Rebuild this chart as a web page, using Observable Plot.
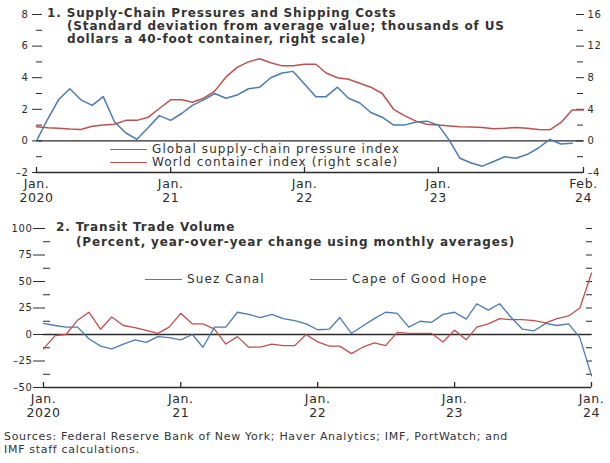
<!DOCTYPE html>
<html><head><meta charset="utf-8">
<script src="https://cdn.jsdelivr.net/npm/d3@7"></script>
<script src="https://cdn.jsdelivr.net/npm/@observablehq/plot@0.6"></script>
<style>
body{margin:0;background:#fff;}
#wrap{position:relative;width:610px;height:463px;font-family:"DejaVu Sans",sans-serif;color:#333;overflow:hidden;background:#fff}
.abs{position:absolute;white-space:nowrap;line-height:13px}
.t{font-weight:bold;font-size:12px;letter-spacing:0.85px}
.lg{font-size:12px;display:flex;align-items:center;letter-spacing:1.1px}
.sw{display:inline-block;width:37px;height:0;border-top:1.5px solid;margin-right:5px}
.src{font-size:11px;line-height:13px;letter-spacing:0.7px}
#p1,#p2{position:absolute;left:0}
#p1{top:0}#p2{top:210px}
#wrap svg text{letter-spacing:0.6px}
</style></head>
<body><div id="wrap">
<div id="p1"></div><div id="p2"></div>
<div class="abs t" style="left:47px;top:7px">1. Supply-Chain Pressures and Shipping Costs</div>
<div class="abs t" style="left:67px;top:20px">(Standard deviation from average value; thousands of US</div>
<div class="abs t" style="left:67px;top:33px">dollars a 40-foot container, right scale)</div>
<div class="abs lg" style="left:110px;top:143px"><span class="sw" style="border-color:#4a7bb5"></span>Global supply-chain pressure index</div>
<div class="abs lg" style="left:110px;top:156px"><span class="sw" style="border-color:#c0504d"></span>World container index (right scale)</div>
<div class="abs t" style="left:56px;top:221px">2. Transit Trade Volume</div>
<div class="abs t" style="left:76px;top:236px">(Percent, year-over-year change using monthly averages)</div>
<div class="abs lg" style="left:145px;top:273px"><span class="sw" style="border-color:#4a7bb5;border-top-width:1px"></span>Suez Canal</div>
<div class="abs lg" style="left:310px;top:273px"><span class="sw" style="border-color:#c0504d;border-top-width:1px"></span>Cape of Good Hope</div>
<div class="abs src" style="left:4px;top:430px">Sources: Federal Reserve Bank of New York; Haver Analytics; IMF, PortWatch; and<br>IMF staff calculations.</div>
</div>
<script>
const blue = "#4a7bb5", red = "#c0504d", ink = "#2a2a2a";
// Panel 1: monthly, Jan 2020 – Jan 2024 (GSCPI), Jan 2020 – Feb 2024 (WCI)
const gscpi = [0.0,1.4,2.6,3.3,2.6,2.25,2.8,1.2,0.5,0.1,0.85,1.6,
  1.3,1.75,2.25,2.6,3.0,2.7,2.9,3.3,3.4,4.0,4.3,4.4,
  3.6,2.8,2.8,3.4,2.7,2.4,1.8,1.5,1.0,1.0,1.2,1.25,
  1.0,0.0,-1.1,-1.4,-1.6,-1.3,-1.0,-1.1,-0.85,-0.45,0.1,-0.2,
  -0.15];
const wci = [1.8,1.65,1.6,1.5,1.45,1.85,2.0,2.1,2.6,2.6,3.0,4.1,
  5.2,5.2,4.9,5.4,6.3,8.1,9.3,10.0,10.4,9.9,9.5,9.5,
  9.7,9.7,8.6,8.0,7.8,7.3,6.8,6.0,4.0,3.2,2.5,2.1,
  2.0,1.9,1.8,1.75,1.7,1.55,1.6,1.7,1.6,1.45,1.4,2.3,
  3.9,3.9];
// Panel 2: monthly, Jan 2020 – Jan 2024
const suez = [10.5,8.5,7,7,-4,-11,-13.5,-9,-5,-7.5,-2,-3,
  -5,0,-12,7,7,21,19,16,19,15,13,10,
  4.5,5,16,1,8,15,21,20,7,12.5,11.5,19,
  21,14.5,29,23,29,16,5,3.5,10.5,8.5,10,-3,
  -39];
const cape = [-13.5,-1,0,13.5,21,5,16.5,8.5,6.5,4,1,7,
  20,10,10,5,-9,-2,-12,-12,-9,-10.5,-10.5,0,
  -7,-11,-11,-18,-12,-8,-10.5,2,1,1,1,-7,
  4,-5,7,10,15,14,14,13,11,15,17.5,25,
  58];
const topTickDates = ["2020-01-01","2021-01-01","2022-01-01","2023-01-01","2024-02-01"];
const topTickLabels = ["Jan.\n2020","Jan.\n21","Jan.\n22","Jan.\n23","Feb.\n24"];
const botTickDates = ["2020-01-01","2021-01-01","2022-01-01","2023-01-01","2024-01-01"];
const botTickLabels = ["Jan.\n2020","Jan.\n21","Jan.\n22","Jan.\n23","Jan.\n24"];
const leftMajor1 = [-2,0,2,4,6,8], leftMinor1 = [-1,1,3,5,7];
const leftMajor2 = [-50,-25,0,25,50,75,100], leftMinor2 = [-37.5,-12.5,12.5,37.5,62.5,87.5];

const start = new Date(Date.UTC(2020,0,1));
const mon = i => d3.utcMonth.offset(start, i);
const toRows = arr => arr.map((v,i) => ({date: mon(i), v}));
const td = topTickDates.map(s => new Date(s));
const bd = botTickDates.map(s => new Date(s));
const tl = new Map(td.map((d,i)=>[+d, topTickLabels[i]]));
const bl = new Map(bd.map((d,i)=>[+d, botTickLabels[i]]));
const blank = () => "";
const dash = d => String(d).replace("-","\u2013");
const style = {fontFamily:"DejaVu Sans", fontSize:"10px", color:ink, background:"transparent", overflow:"visible"};

const p1 = Plot.plot({
  width:610, height:205, marginTop:14, marginBottom:33, marginLeft:36, marginRight:27,
  style,
  x:{type:"utc", domain:[start, mon(49)], axis:null},
  y:{domain:[-2,8], axis:null},
  marks:[
    Plot.axisY(leftMajor1,{anchor:"left", tickSize:10, dx:6, tickFormat:blank, label:null}),
    Plot.axisY(leftMajor1,{anchor:"left", tickSize:0, tickPadding:8, tickFormat:dash, label:null}),
    Plot.axisY(leftMinor1,{anchor:"left", tickSize:6, dx:6, tickFormat:blank, label:null}),
    Plot.axisY(leftMajor1,{anchor:"right", tickSize:8, dx:-8, tickFormat:blank, label:null}),
    Plot.axisY(leftMinor1,{anchor:"right", tickSize:6, dx:-7, tickFormat:blank, label:null}),
    Plot.axisY(leftMajor1,{anchor:"right", tickSize:0, tickPadding:4, tickFormat:d=>dash(d*2), label:null}),
    Plot.axisX(td,{anchor:"bottom", tickSize:5, dy:-5, tickFormat:blank, label:null, strokeWidth:1.3}),
    Plot.axisX(td,{anchor:"bottom", tickSize:0, tickPadding:6, tickFormat:d=>tl.get(+d), fontSize:12.5, lineHeight:1.1, label:null}),
    Plot.ruleY([-2],{stroke:ink, strokeWidth:1.4}),
    Plot.ruleY([0],{stroke:ink, strokeWidth:1.4}),
    Plot.line(toRows(wci),{x:"date", y:d=>d.v/2, stroke:red, strokeWidth:1.5}),
    Plot.line(toRows(gscpi),{x:"date", y:"v", stroke:blue, strokeWidth:1.5})
  ]
});
document.getElementById("p1").append(p1);

const p2 = Plot.plot({
  width:610, height:210, marginTop:18, marginBottom:33, marginLeft:43, marginRight:19,
  style,
  x:{type:"utc", domain:[start, mon(48)], axis:null},
  y:{domain:[-50,100], axis:null},
  marks:[
    Plot.axisY(leftMajor2,{anchor:"left", tickSize:12, dx:2, tickFormat:blank, label:null}),
    Plot.axisY(leftMajor2,{anchor:"left", tickSize:0, tickPadding:11, tickFormat:dash, label:null}),
    Plot.axisY(leftMinor2,{anchor:"left", tickSize:7, dx:7, tickFormat:blank, label:null}),
    Plot.axisY(leftMajor2.concat(leftMinor2).filter(d=>d>-50),{anchor:"right", tickSize:6, dx:-6, tickFormat:blank, label:null}),
    Plot.axisX(bd,{anchor:"bottom", tickSize:5, dy:-5, tickFormat:blank, label:null, strokeWidth:1.3}),
    Plot.axisX(bd,{anchor:"bottom", tickSize:0, tickPadding:6, tickFormat:d=>bl.get(+d), fontSize:12.5, lineHeight:1.1, label:null}),
    Plot.ruleY([-50],{stroke:ink, strokeWidth:1.4}),
    Plot.ruleY([0],{stroke:ink, strokeWidth:1.4}),
    Plot.line(toRows(cape),{x:"date", y:"v", stroke:red, strokeWidth:1.3}),
    Plot.line(toRows(suez),{x:"date", y:"v", stroke:blue, strokeWidth:1.3})
  ]
});
document.getElementById("p2").append(p2);
</script>
</body></html>
